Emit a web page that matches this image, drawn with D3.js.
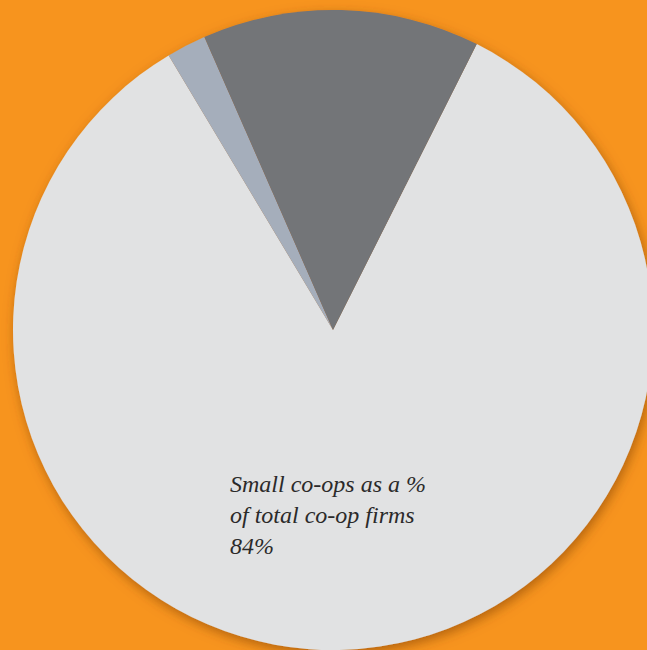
<!DOCTYPE html>
<html>
<head>
<meta charset="utf-8">
<script src="https://cdn.jsdelivr.net/npm/d3@7/dist/d3.min.js"></script>
<style>
  html, body { margin: 0; padding: 0; background: #F7941E; overflow: hidden; }
  svg { display: block; }
</style>
</head>
<body>
<svg id="chart" width="647" height="650"></svg>
<script>
// Co-op firms by size, share of total (%)
const categories = ["Small co-ops", "Medium co-ops", "Large co-ops"];
const values = [84, 2, 14];
const colors = ["#E1E2E3", "#A5AEBB", "#737478"];
const labelLines = ["Small co-ops as a %", "of total co-op firms", "84%"];

const width = 647, height = 650;
const cx = 333, cy = 330, radius = 320;

const svg = d3.select("#chart");

svg.append("rect")
  .attr("width", width).attr("height", height)
  .attr("fill", "#F7941E");

const defs = svg.append("defs");
const shadow = defs.append("filter")
  .attr("id", "pieShadow")
  .attr("x", "-20%").attr("y", "-20%")
  .attr("width", "140%").attr("height", "140%");
shadow.append("feDropShadow")
  .attr("dx", 2).attr("dy", 4)
  .attr("stdDeviation", 6)
  .attr("flood-color", "#7a3a00")
  .attr("flood-opacity", 0.55);

const color = d3.scaleOrdinal().domain(categories).range(colors);

const startDeg = 26.7;
const pie = d3.pie()
  .sort(null)
  .value(d => d.value)
  .startAngle(startDeg * Math.PI / 180)
  .endAngle(startDeg * Math.PI / 180 + 2 * Math.PI);

const arc = d3.arc().innerRadius(0).outerRadius(radius);

const data = categories.map((c, i) => ({ category: c, value: values[i] }));

const g = svg.append("g")
  .attr("transform", `translate(${cx},${cy})`)
  .attr("filter", "url(#pieShadow)");

g.selectAll("path")
  .data(pie(data))
  .join("path")
  .attr("d", arc)
  .attr("fill", d => color(d.data.category));

// Label for the largest slice
const label = svg.append("text")
  .attr("x", 230)
  .attr("y", 492)
  .attr("font-family", "'Liberation Serif', 'DejaVu Serif', serif")
  .attr("font-style", "italic")
  .attr("font-size", 24)
  .attr("fill", "#2b2a2a");

label.selectAll("tspan")
  .data(labelLines)
  .join("tspan")
  .attr("x", 230)
  .attr("dy", (d, i) => i === 0 ? 0 : 31)
  .text(d => d);
</script>
</body>
</html>
